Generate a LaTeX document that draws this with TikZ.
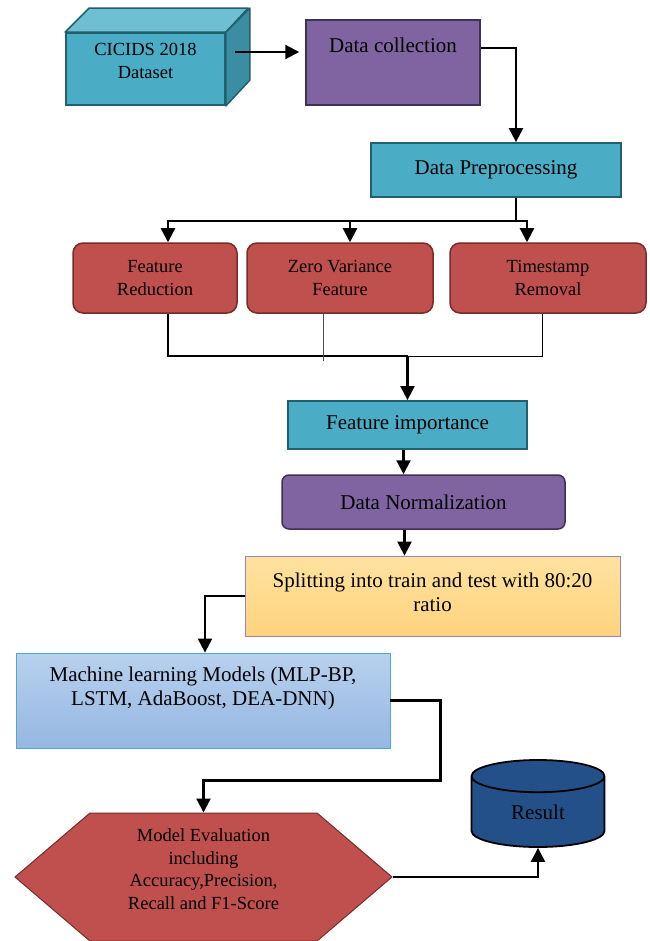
\documentclass[tikz,border=0pt]{standalone}
\usepackage{fontspec}
\setmainfont{Liberation Serif}
\usepackage{tikz}
\usetikzlibrary{calc}
\usetikzlibrary{arrows.meta}
\usetikzlibrary{shapes.geometric}
\usetikzlibrary{shapes.symbols}
\tikzset{>={Triangle[length=14pt,width=14pt]}}

\definecolor{tealfill}{HTML}{4BACC6}
\definecolor{tealtop}{HTML}{6FBFD2}
\definecolor{tealside}{HTML}{3B8DA3}
\definecolor{tealline}{HTML}{23606F}
\definecolor{purplefill}{HTML}{8064A2}
\definecolor{purpleline}{HTML}{3F3151}
\definecolor{redfill}{HTML}{C0504D}
\definecolor{redline}{HTML}{772C2A}
\definecolor{orangetop}{HTML}{FFE2A0}
\definecolor{orangebot}{HTML}{FFD37E}
\definecolor{orangeline}{HTML}{9A84C0}
\definecolor{bluetop}{HTML}{B8D1EE}
\definecolor{bluebot}{HTML}{95B7E2}
\definecolor{navyfill}{HTML}{245089}

\tikzset{
  bigtext/.style={font=\fontsize{21}{24}\selectfont, align=center},
  smalltext/.style={font=\fontsize{18.5}{22.5}\selectfont, align=center},
  tealbox/.style={draw=tealline, fill=tealfill, line width=1.8pt, inner sep=0pt, bigtext},
  purplebox/.style={draw=purpleline, fill=purplefill, line width=1.5pt, inner sep=0pt, bigtext},
  redbox/.style={draw=redline, fill=redfill, line width=1.5pt, rounded corners=10pt,
    inner sep=0pt, minimum height=70pt, smalltext},
  flow/.style={line width=2.2pt, ->},
  joint/.style={line width=2.2pt},
  thinjoint/.style={line width=1pt},
}

\begin{document}
\begin{tikzpicture}[x=1pt,y=-1pt]
    \useasboundingbox (0,0) rectangle (649,941);

    % dataset cube
    \node[tealbox, minimum width=159pt, minimum height=72pt,
      label={[smalltext, yshift=8pt]center:CICIDS 2018\\Dataset}] (dataset) at (145.5,69) {};
    \filldraw[draw=tealline, fill=tealtop, line width=1.5pt, line join=round]
      (dataset.north west) -- ++(24,-24) -- ++(159,0) -- (dataset.north east) -- cycle;
    \filldraw[draw=tealline, fill=tealside, line width=1.5pt, line join=round]
      (dataset.north east) -- ++(24,-24) -- ++(0,72) -- (dataset.south east) -- cycle;

    \node[purplebox, minimum width=174pt, minimum height=85pt,
      label={[bigtext, yshift=17pt]center:Data collection}] (collect) at (393,62.5) {};
    \node[tealbox, minimum width=250pt, minimum height=54pt] (prep) at (496,170) {Data Preprocessing};

    \node[redbox, minimum width=164pt] (reduce) at (155,278) {Feature\\Reduction};
    \node[redbox, minimum width=186pt] (zero) at (340,278) {Zero Variance\\Feature};
    \node[redbox, minimum width=196pt] (stamp) at (548,278) {Timestamp\\Removal};

    \node[tealbox, minimum width=239pt, minimum height=48pt] (importance) at (407.5,425) {Feature importance};
    \node[purplebox, rounded corners=7pt, minimum width=283pt, minimum height=54pt] (normal) at (423.5,502) {Data Normalization};

    \node[draw=orangeline, top color=orangetop, bottom color=orangebot, line width=0.8pt,
      inner sep=0pt, minimum width=375pt, minimum height=80pt,
      label={[bigtext, yshift=4pt]center:Splitting into train and test with 80:20\\ratio}] (split) at (432.5,596) {};
    \node[draw=tealfill, top color=bluetop, bottom color=bluebot, line width=0.8pt,
      inner sep=0pt, minimum width=374pt, minimum height=95pt,
      label={[bigtext, yshift=12pt]center:Machine learning Models (MLP-BP,\\LSTM, AdaBoost, DEA-DNN)}] (models) at (203,700.5) {};

    \node[signal, signal to=west and east, signal pointer angle=81, draw=redline, fill=redfill,
      line width=1pt, inner sep=0pt, minimum width=377pt, minimum height=128pt,
      label={[smalltext, yshift=8pt]center:Model Evaluation\\including\\Accuracy,Precision,\\Recall and F1-Score}] (eval) at (203.5,877) {};
    \node[cylinder, shape border rotate=90, aspect=0.6, draw=black, fill=navyfill, line width=1.8pt,
      inner sep=0pt, minimum width=133pt, minimum height=87pt, bigtext] (result) at (538,812) {Result};

    % connectors
    \draw[flow, shorten >=6pt] ([xshift=9pt,yshift=17pt]dataset.east) -- ([yshift=17pt]dataset.east -| collect.west);
    \draw[flow] ([yshift=14.5pt]collect.east) -| ([xshift=20pt]prep.north);

    \draw[joint] ([xshift=20pt]prep.south) -- ++(0,23) coordinate (fork);
    \draw[flow] (fork) -| ([xshift=13pt]reduce.north);
    \draw[flow] (fork) -| ([xshift=10pt]zero.north);
    \draw[flow] (fork) -| ([xshift=-21pt]stamp.north);

    \coordinate (merge) at ([yshift=44pt]importance.north);
    \draw[joint] ([xshift=13pt]reduce.south) |- (merge);
    \draw[thinjoint, draw=black!70] ([xshift=-17pt]zero.south) -- ++(0,47);
    \draw[thinjoint] ([xshift=-6pt]stamp.south) |- (merge);
    \draw[flow] (merge) -- (importance.north);

    \draw[flow] ([xshift=-4pt]importance.south) -- ([xshift=-4pt]importance.south |- normal.north);
    \draw[flow] ([xshift=-19pt]normal.south) -- ([xshift=-19pt]normal.south |- split.north);
    \draw[flow] (split.west) -| ([xshift=2pt]models.north);
    \draw[flow] (models.east) -- ++(50,0) |- ([yshift=32pt]eval.north) -- (eval.north);
    \draw[flow] (eval.east) -| (result.south);
\end{tikzpicture}
\end{document}
